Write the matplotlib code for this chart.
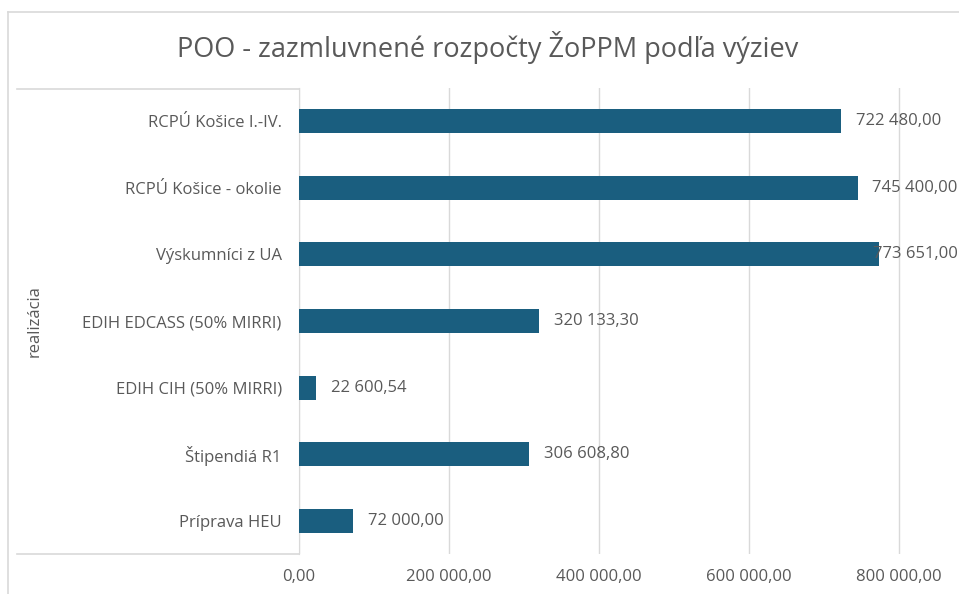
import matplotlib.pyplot as plt
from matplotlib.lines import Line2D
from matplotlib.ticker import FuncFormatter

# Data
categories = ['RCPÚ Košice I.-IV.', 'RCPÚ Košice - okolie', 'Výskumníci z UA',
              'EDIH EDCASS (50% MIRRI)', 'EDIH CIH (50% MIRRI)', 'Štipendiá R1',
              'Príprava HEU']
values = [722480.00, 745400.00, 773651.00, 320133.30, 22600.54, 306608.80, 72000.00]
x_ticks = [0, 200000, 400000, 600000, 800000]
group_label = 'realizácia'
title = 'POO - zazmluvnené rozpočty ŽoPPM podľa výziev'

bar_color = '#1a5e7f'
text_color = '#595959'
line_color = '#d9d9d9'

plt.rcParams['font.family'] = ['Open Sans', 'DejaVu Sans']


def sk_fmt(v, pos=None):
    s = f'{v:,.2f}'
    return s.replace(',', ' ').replace('.', ',')


W, H = 959, 594
fig = plt.figure(figsize=(W / 100, H / 100), dpi=100)
ax = fig.add_axes([299 / W, 1 - 554 / H, 1 - 299 / W, (554 - 88) / H])

y = list(range(len(categories)))
ax.barh(y, values, height=0.36, color=bar_color, zorder=3)
ax.set_ylim(len(categories) - 0.5, -0.5)
ax.set_xlim(0, (W - 299) / 150 * 200000)
ax.set_yticks(y)
ax.set_yticklabels(categories, fontsize=12, color=text_color)
ax.set_xticks(x_ticks)
ax.xaxis.set_major_formatter(FuncFormatter(sk_fmt))
ax.tick_params(axis='x', labelsize=12, labelcolor=text_color, length=0, pad=11)
ax.tick_params(axis='y', length=0, pad=12.5)
ax.grid(axis='x', color=line_color, linewidth=1, zorder=0)
for side in ['top', 'right', 'bottom']:
    ax.spines[side].set_visible(False)
ax.spines['left'].set_color(line_color)

# value labels; a label that would run past the edge is pulled back inside
fig.canvas.draw()
renderer = fig.canvas.get_renderer()
for yi, v in zip(y, values):
    t = ax.annotate(sk_fmt(v), (v, yi), xytext=(11, 0), textcoords='offset points',
                    va='center', ha='left', fontsize=12, color=text_color,
                    annotation_clip=False)
    bb = t.get_window_extent(renderer)
    if bb.x1 > W - 2:
        t.remove()
        ax.annotate(sk_fmt(v), (1.0, yi), xycoords=('axes fraction', 'data'),
                    xytext=(-1, 0), textcoords='offset points',
                    va='center', ha='right', fontsize=12, color=text_color,
                    annotation_clip=False)

# title and outer group label
fig.text(488 / W, 1 - 47 / H, title, ha='center', va='center', fontsize=19.5,
         color=text_color)
fig.text(35 / W, 1 - 321 / H, group_label, rotation=90, ha='center',
         va='center', fontsize=12, color=text_color)

# chart border and category group lines
def px_line(x0, y0, x1, y1):
    fig.add_artist(Line2D([x0 / W, x1 / W], [1 - y0 / H, 1 - y1 / H],
                          color=line_color, linewidth=1.2))

px_line(8, 12, W, 12)
px_line(8, 12, 8, H)
px_line(17, 89, 299, 89)
px_line(17, 554, 299, 554)

fig.savefig('out.png', dpi=100)
